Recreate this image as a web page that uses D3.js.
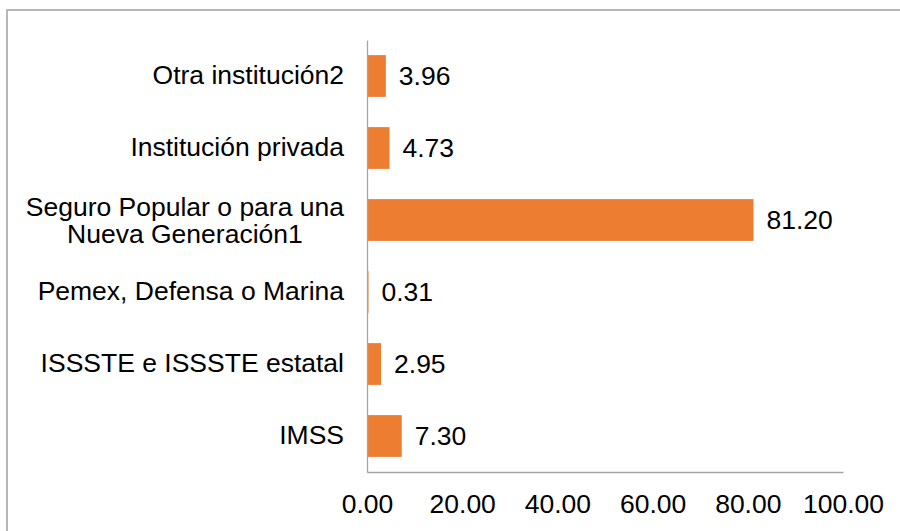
<!DOCTYPE html>
<html>
<head>
<meta charset="utf-8">
<script src="https://cdn.jsdelivr.net/npm/d3@7"></script>
<style>
  html, body { margin: 0; padding: 0; background: #fff; }
  svg { display: block; font-family: "Liberation Sans", Arial, sans-serif; }
</style>
</head>
<body>
<main></main>
<script>
// Constants
const WIDTH = 900;
const HEIGHT = 531;
const FONT = 26.5;
const BAR_COLOR = '#ED7D31';
const AXIS_COLOR = '#A6A6A6';

// Data (top to bottom as drawn)
const categories = [
  'Otra institución2',
  'Institución privada',
  'Seguro Popular o para una Nueva Generación1',
  'Pemex, Defensa o Marina',
  'ISSSTE e ISSSTE estatal',
  'IMSS',
];
const values = [3.96, 4.73, 81.2, 0.31, 2.95, 7.3];
const xTicks = [0, 20, 40, 60, 80, 100];

const data = categories.map((name, i) => ({ name, value: values[i] }));

const svg = d3.select('main')
  .append('svg')
  .attr('width', WIDTH)
  .attr('height', HEIGHT);

// Chart border (only top and left visible in frame)
svg.append('path')
  .attr('d', 'M7,531V10H900')
  .attr('fill', 'none')
  .attr('stroke', '#A0A0A0')
  .attr('stroke-width', 1.5);

// Scales
const xScale = d3.scaleLinear([0, 100], [367, 843]);
const yScale = d3.scaleBand(categories, [40, 472])
  .paddingInner(0.42)
  .paddingOuter(0.21);

// Bars
svg.selectAll('rect.bar')
  .data(data)
  .enter()
  .append('rect')
  .attr('class', 'bar')
  .attr('x', xScale(0))
  .attr('y', (d) => yScale(d.name))
  .attr('width', (d) => xScale(d.value) - xScale(0))
  .attr('height', yScale.bandwidth())
  .attr('fill', BAR_COLOR);

// Value labels
svg.selectAll('text.value')
  .data(data)
  .enter()
  .append('text')
  .attr('class', 'value')
  .attr('x', (d) => xScale(d.value) + 13)
  .attr('y', (d) => yScale(d.name) + yScale.bandwidth() / 2)
  .attr('dy', '0.35em')
  .attr('font-size', FONT)
  .attr('fill', '#000')
  .text((d) => d3.format('.2f')(d.value));

// X axis
const xAxis = d3.axisBottom(xScale)
  .tickValues(xTicks)
  .tickSize(0)
  .tickPadding(22)
  .tickFormat(d3.format('.2f'));

const gx = svg.append('g')
  .attr('transform', 'translate(0, 472)')
  .call(xAxis);
gx.select('.domain').attr('stroke', AXIS_COLOR).attr('stroke-width', 1.3);
gx.selectAll('text')
  .attr('font-size', FONT)
  .attr('font-family', '"Liberation Sans", Arial, sans-serif')
  .attr('fill', '#000');

// Y axis
const yAxis = d3.axisLeft(yScale).tickSize(0).tickPadding(23);
const gy = svg.append('g')
  .attr('transform', 'translate(367, 0)')
  .call(yAxis);
gy.select('.domain').attr('stroke', AXIS_COLOR).attr('stroke-width', 1.3);

// Wrap long category labels, lines centered within a right-aligned block
const MAX_LABEL = 325;
gy.selectAll('.tick text').each(function (name) {
  const text = d3.select(this)
    .attr('font-size', FONT)
    .attr('font-family', '"Liberation Sans", Arial, sans-serif')
    .attr('fill', '#000');
  const words = name.split(' ');
  const lines = [];
  let line = [];
  text.text(null);
  const probe = text.append('tspan');
  words.forEach((w) => {
    line.push(w);
    probe.text(line.join(' '));
    if (probe.node().getComputedTextLength() > MAX_LABEL && line.length > 1) {
      line.pop();
      lines.push(line.join(' '));
      line = [w];
    }
  });
  lines.push(line.join(' '));
  probe.remove();
  if (lines.length === 1) {
    text.text(name);
    return;
  }
  const widths = lines.map((l) => {
    const t = text.append('tspan').text(l);
    const wd = t.node().getComputedTextLength();
    t.remove();
    return wd;
  });
  const cx = -23 - d3.max(widths) / 2;
  const lh = 27;
  text.attr('text-anchor', 'middle').attr('dy', null);
  lines.forEach((l, i) => {
    text.append('tspan')
      .attr('x', cx)
      .attr('y', (i - (lines.length - 1) / 2) * lh)
      .attr('dy', '0.35em')
      .text(l);
  });
});
</script>
</body>
</html>
